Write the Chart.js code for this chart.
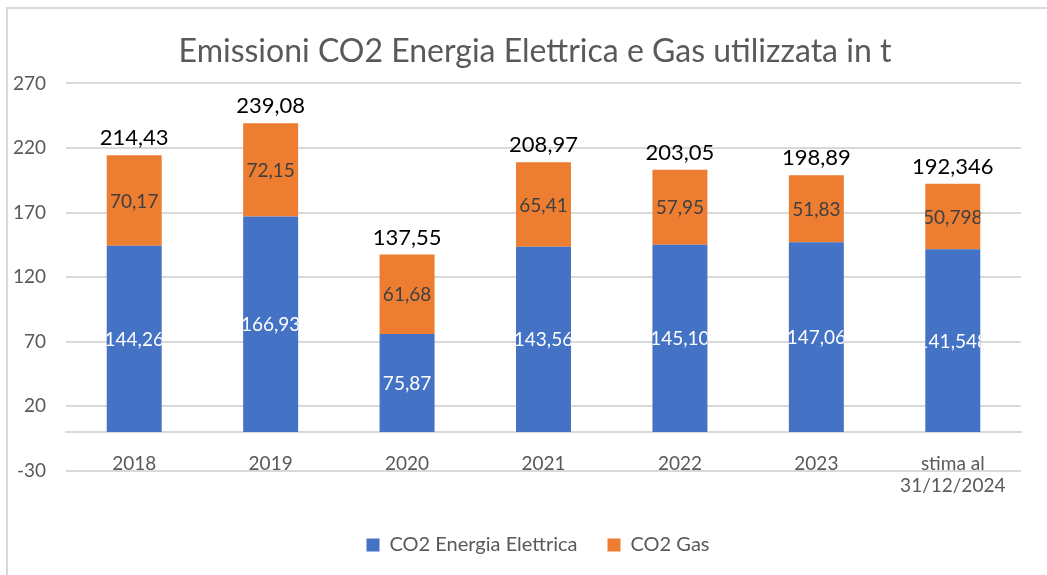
<!DOCTYPE html>
<html>
<head>
<meta charset="utf-8">
<script src="https://cdn.jsdelivr.net/npm/chart.js@4.4.1/dist/chart.umd.min.js"></script>
<style>
  html, body { margin: 0; padding: 0; background: #fff; }
  #wrap { width: 1047px; height: 575px; position: relative; }
</style>
</head>
<body>
<div id="wrap"><canvas id="grafico"></canvas></div>
<script>
// ==========================================
// DATI
// ==========================================
const categorie = ['2018', '2019', '2020', '2021', '2022', '2023', ['stima al', '31/12/2024']];
const co2Elettrica = [144.26, 166.93, 75.87, 143.56, 145.10, 147.06, 141.548];
const co2Gas = [70.17, 72.15, 61.68, 65.41, 57.95, 51.83, 50.798];
const decimali = [2, 2, 2, 2, 2, 2, 3];
const tickY = { min: -30, max: 270, step: 50 };

const FONT = 'Lato, "Open Sans", sans-serif';
const GRIGIO = '#595959';
const GRIGLIA = '#d9d9d9';

function formatta(v, d) {
    return v.toLocaleString('it-IT', { minimumFractionDigits: d, maximumFractionDigits: d });
}

// cornice del grafico (come Excel) + titolo e legenda centrati sull'intera area
const cornice = {
    id: 'cornice',
    afterLayout(chart) {
        if (chart.titleBlock) {
            chart.titleBlock.left = 23;
            chart.titleBlock.right = chart.width;
        }
        if (chart.legend) {
            chart.legend.left = 29;
            chart.legend.right = chart.width;
        }
    },
    beforeDraw(chart) {
        const ctx = chart.ctx;
        ctx.save();
        ctx.strokeStyle = GRIGLIA;
        ctx.lineWidth = 2;
        ctx.strokeRect(7, 8, 2000, 2000);
        ctx.restore();
    }
};

// etichette dentro le barre + totali sopra
const etichette = {
    id: 'etichette',
    afterDatasetsDraw(chart) {
        const ctx = chart.ctx;
        ctx.save();
        ctx.textAlign = 'center';
        ctx.textBaseline = 'middle';

        chart.data.datasets.forEach((ds, i) => {
            const meta = chart.getDatasetMeta(i);
            meta.data.forEach((bar, j) => {
                const w = bar.width;
                ctx.save();
                ctx.beginPath();
                ctx.rect(bar.x - w / 2, 0, w, chart.height);
                ctx.clip();
                ctx.font = '19px ' + FONT;
                ctx.fillStyle = i === 0 ? '#ffffff' : '#404040';
                ctx.fillText(formatta(ds.data[j], decimali[j]), bar.x, (bar.y + bar.base) / 2 + 1);
                ctx.restore();
            });
        });

        // totali
        const top = chart.getDatasetMeta(chart.data.datasets.length - 1);
        ctx.font = '22px ' + FONT;
        ctx.fillStyle = '#000000';
        top.data.forEach((bar, j) => {
            const tot = co2Elettrica[j] + co2Gas[j];
            ctx.fillText(formatta(tot, decimali[j]), bar.x, bar.y - 17);
        });
        ctx.restore();
    }
};

new Chart(document.getElementById('grafico'), {
    type: 'bar',
    data: {
        labels: categorie,
        datasets: [
            {
                label: 'CO2 Energia Elettrica',
                data: co2Elettrica,
                backgroundColor: '#4472c4',
                barPercentage: 1,
                categoryPercentage: 0.403
            },
            {
                label: 'CO2 Gas',
                data: co2Gas,
                backgroundColor: '#ed7d31',
                barPercentage: 1,
                categoryPercentage: 0.403
            }
        ]
    },
    options: {
        responsive: true,
        maintainAspectRatio: false,
        animation: false,
        layout: { padding: { left: 0, right: 26, top: 0, bottom: 10 } },
        scales: {
            x: {
                stacked: true,
                position: { y: 0 },
                grid: { display: false, drawTicks: false },
                border: { display: true, color: GRIGLIA, width: 2 },
                ticks: { color: GRIGIO, font: { family: FONT, size: 19 }, padding: 20, maxRotation: 0, autoSkip: false }
            },
            y: {
                stacked: true,
                min: tickY.min,
                max: tickY.max,
                grid: { color: GRIGLIA, lineWidth: 2, drawTicks: false },
                border: { display: false },
                ticks: { stepSize: tickY.step, color: GRIGIO, font: { family: FONT, size: 19 }, padding: 20 },
                afterFit(scale) { scale.width = 66; }
            }
        },
        plugins: {
            title: {
                display: true,
                text: 'Emissioni CO2 Energia Elettrica e Gas utilizzata in t',
                color: GRIGIO,
                font: { family: FONT, size: 32, weight: 'normal' },
                padding: { top: 32, bottom: 13 }
            },
            legend: {
                position: 'bottom',
                title: {
                    display: true,
                    text: ' ',
                    font: { size: 1 },
                    padding: { top: 33, bottom: 0 }
                },
                labels: {
                    color: GRIGIO,
                    font: { family: FONT, size: 20 },
                    boxWidth: 13,
                    boxHeight: 13,
                    padding: 30
                }
            },
            tooltip: { enabled: false }
        }
    },
    plugins: [cornice, etichette]
});
</script>
</body>
</html>
